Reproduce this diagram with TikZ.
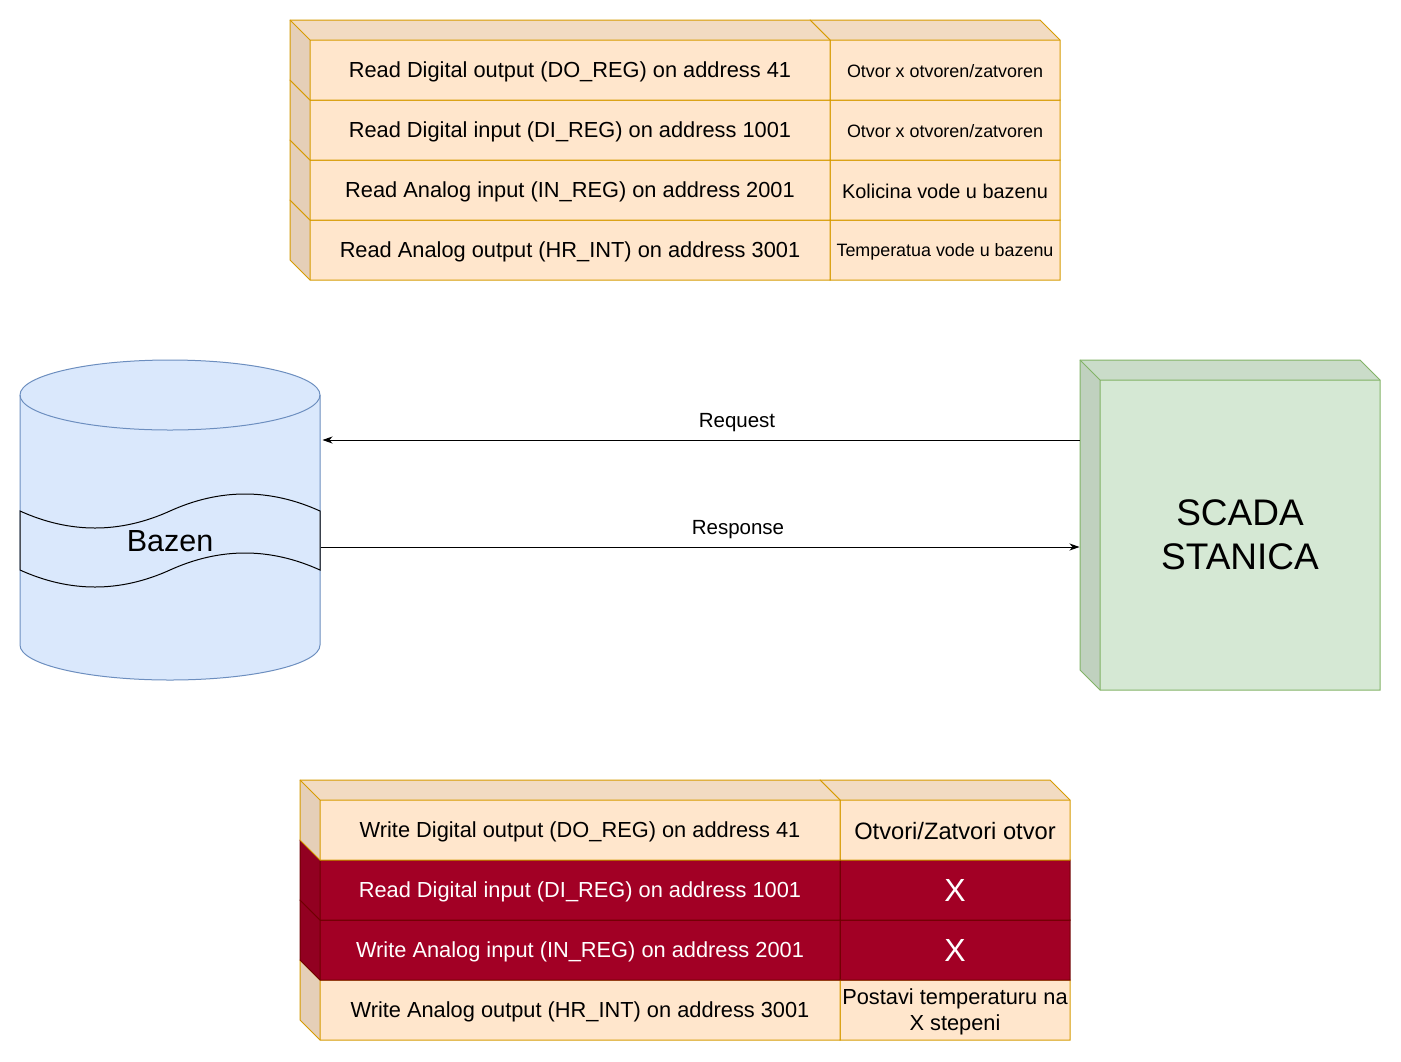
\documentclass[tikz,border=0pt]{standalone}
\usepackage{fontspec}
\setmainfont{Liberation Sans}
\usetikzlibrary{arrows.meta}
\definecolor{creamF}{HTML}{FFE6CC}
\definecolor{creamS}{HTML}{D79B00}
\definecolor{redF}{HTML}{A20025}
\definecolor{redS}{HTML}{6F0000}
\definecolor{greenF}{HTML}{D5E8D4}
\definecolor{greenS}{HTML}{82B366}
\definecolor{blueF}{HTML}{DAE8FC}
\definecolor{blueS}{HTML}{6C8EBF}
\newcommand{\cubeshape}[6]{%
  \fill[#5] (#1+20,#2+20) rectangle (#1+#3,#2+#4);
  \fill[#5!90!black] (#1,#2) -- (#1+20,#2+20) -- (#1+20,#2+#4) -- (#1,#2+#4-20) -- cycle;
  \fill[#5!95!black] (#1,#2) -- (#1+#3-20,#2) -- (#1+#3,#2+20) -- (#1+20,#2+20) -- cycle;
  \draw[#6] (#1,#2) -- (#1+#3-20,#2) -- (#1+#3,#2+20) -- (#1+#3,#2+#4) -- (#1+20,#2+#4) -- (#1,#2+#4-20) -- cycle;
  \draw[#6] (#1,#2) -- (#1+20,#2+20) -- (#1+#3,#2+20) (#1+20,#2+20) -- (#1+20,#2+#4);
}
\begin{document}
\begin{tikzpicture}[x=1pt,y=-1pt,line width=1pt,
  celltext/.style={inner sep=0pt, align=center, yshift=-2pt, font=\fontsize{21.8}{26}\selectfont},
  smalltext/.style={inner sep=0pt, align=center, yshift=-1.5pt, font=\fontsize{17.9}{21}\selectfont},
  midtext/.style={inner sep=0pt, align=center, yshift=-1.5pt, font=\fontsize{19.9}{24}\selectfont},
  bigx/.style={inner sep=0pt, text=white, font=\fontsize{32}{36}\selectfont},
  lbl/.style={inner sep=0pt, yshift=-3pt, font=\fontsize{20.5}{24}\selectfont},
  arr/.style={line width=1pt, -{Stealth[length=10pt,width=7pt,inset=3pt]}}]
\useasboundingbox (0,0) rectangle (1401,1061);
\fill[white] (0,0) rectangle (1401,1061);

% ---------- top table ----------
\cubeshape{810}{200}{250}{80}{creamF}{creamS}
\cubeshape{810}{140}{250}{80}{creamF}{creamS}
\cubeshape{810}{80}{250}{80}{creamF}{creamS}
\cubeshape{810}{20}{250}{80}{creamF}{creamS}
\cubeshape{290}{200}{540}{80}{creamF}{creamS}
\cubeshape{290}{140}{540}{80}{creamF}{creamS}
\cubeshape{290}{80}{540}{80}{creamF}{creamS}
\cubeshape{290}{20}{540}{80}{creamF}{creamS}
\node[celltext] (t1l) at (570,70) {Read Digital output (DO\_REG) on address 41};
\node[celltext] (t2l) at (570,130) {Read Digital input (DI\_REG) on address 1001};
\node[celltext] (t3l) at (570,190) {Read Analog input (IN\_REG) on address 2001};
\node[celltext] (t4l) at (570,250) {Read Analog output (HR\_INT) on address 3001};
\node[smalltext] (t1r) at (945,70) {Otvor x otvoren/zatvoren};
\node[smalltext] (t2r) at (945,130) {Otvor x otvoren/zatvoren};
\node[midtext] (t3r) at (945,190) {Kolicina vode u bazenu};
\node[smalltext] (t4r) at (945,250) {Temperatua vode u bazenu};

% ---------- bottom table ----------
\cubeshape{820}{960}{250}{80}{creamF}{creamS}
\cubeshape{820}{900}{250}{80}{redF}{redS}
\cubeshape{820}{840}{250}{80}{redF}{redS}
\cubeshape{820}{780}{250}{80}{creamF}{creamS}
\cubeshape{300}{960}{540}{80}{creamF}{creamS}
\cubeshape{300}{900}{540}{80}{redF}{redS}
\cubeshape{300}{840}{540}{80}{redF}{redS}
\cubeshape{300}{780}{540}{80}{creamF}{creamS}
\node[celltext] (b1l) at (580,830) {Write Digital output (DO\_REG) on address 41};
\node[celltext, text=white] (b2l) at (580,890) {Read Digital input (DI\_REG) on address 1001};
\node[celltext, text=white] (b3l) at (580,950) {Write Analog input (IN\_REG) on address 2001};
\node[celltext] (b4l) at (580,1010) {Write Analog output (HR\_INT) on address 3001};
\node[inner sep=0pt, yshift=-1.5pt, font=\fontsize{23.7}{28}\selectfont] (b1r) at (955,830) {Otvori/Zatvori otvor};
\node[bigx] (b2r) at (955,890) {X};
\node[bigx] (b3r) at (955,950) {X};
\node[celltext, font=\fontsize{21.8}{25.5}\selectfont] (b4r) at (955,1010) {Postavi temperaturu na\\X stepeni};

% ---------- cylinder ----------
\path[fill=blueF, draw=blueS] (20,395) -- (20,645)
  .. controls (20,664.33) and (87.15,680) .. (170,680)
  .. controls (252.85,680) and (320,664.33) .. (320,645)
  -- (320,395)
  .. controls (320,375.67) and (252.85,360) .. (170,360)
  .. controls (87.15,360) and (20,375.67) .. (20,395) -- cycle;
\draw[blueS] (20,395) .. controls (20,414.33) and (87.15,430) .. (170,430)
  .. controls (252.85,430) and (320,414.33) .. (320,395);
\path[fill=blueF, draw=black] (20,511)
  .. controls (70,533.67) and (120,533.67) .. (170,511)
  .. controls (220,488.33) and (270,488.33) .. (320,511)
  -- (320,570)
  .. controls (270,547.33) and (220,547.33) .. (170,570)
  .. controls (120,592.67) and (70,592.67) .. (20,570) -- cycle;
\node[inner sep=0pt, minimum width=300pt, minimum height=320pt] (bazenbox) at (170,520) {};
\node[inner sep=0pt, font=\fontsize{30.5}{34}\selectfont] (bazen) at (170,541) {Bazen};

% ---------- SCADA ----------
\cubeshape{1080}{360}{300}{330}{greenF}{greenS}
\node[inner sep=0pt, minimum width=300pt, minimum height=330pt] (scadabox) at (1230,525) {};
\node[inner sep=0pt, align=center, font=\fontsize{37}{44}\selectfont] (scada) at (1240,535) {SCADA\\STANICA};

% ---------- connectors ----------
\coordinate (reqy) at (0,440);
\coordinate (resy) at (0,547);
\draw[arr, shorten >=2pt] (scadabox.west |- reqy) -- (bazenbox.east |- reqy);
\draw[arr] (bazenbox.east |- resy) -- (scadabox.west |- resy);
\node[lbl] (reqlbl) at (737,420) {Request};
\node[lbl] (reslbl) at (738,527) {Response};
\end{tikzpicture}
\end{document}
